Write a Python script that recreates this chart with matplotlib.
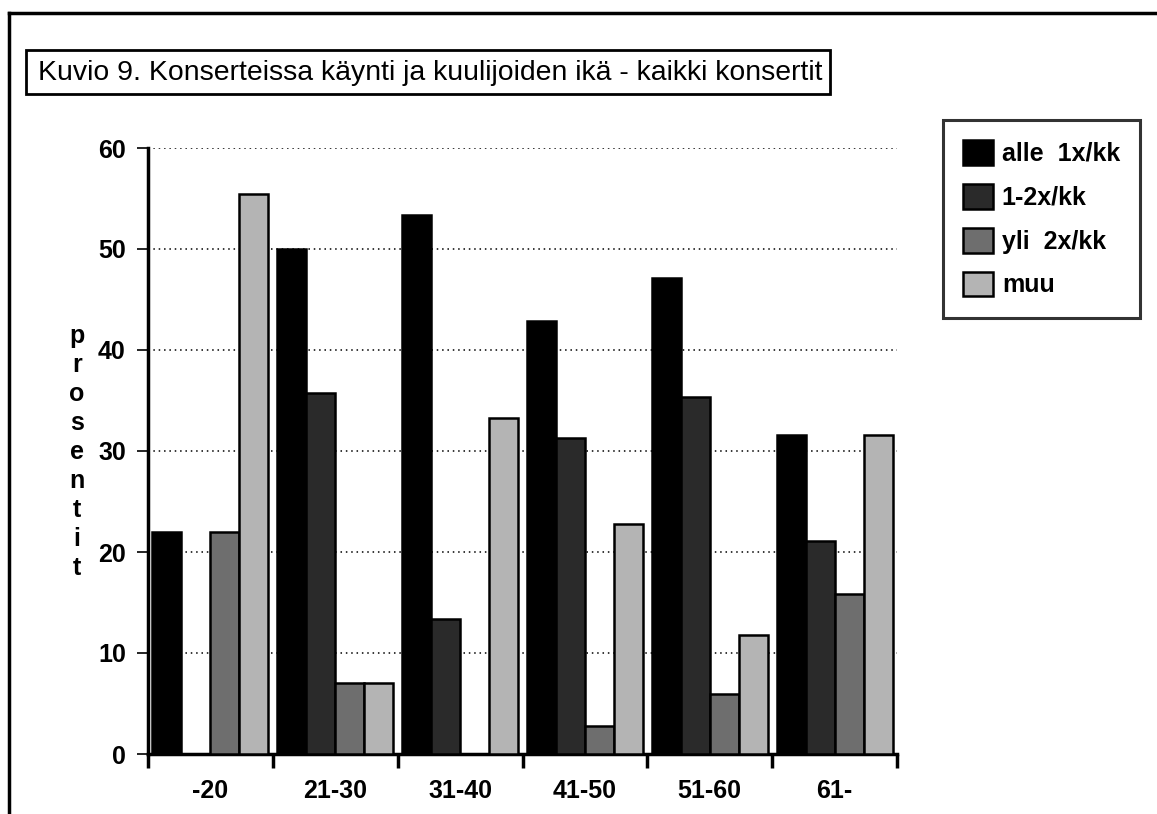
import numpy as np
import matplotlib.pyplot as plt
from matplotlib.patches import Rectangle
from matplotlib.lines import Line2D

plt.rcParams['font.family'] = ['Liberation Sans', 'DejaVu Sans']

# age groups and share (%) of listeners by concert-going frequency
age_groups = ["-20", "21-30", "31-40", "41-50", "51-60", "61-"]
series_names = ["alle  1x/kk", "1-2x/kk", "yli  2x/kk", "muu"]
alle_1x = [22.0, 50.0, 53.4, 42.9, 47.1, 31.6]
x1_2 = [0.0, 35.7, 13.4, 31.3, 35.3, 21.1]
yli_2x = [22.0, 7.0, 0.0, 2.8, 5.9, 15.8]
muu = [55.4, 7.0, 33.3, 22.8, 11.8, 31.6]
y_ticks = [0, 10, 20, 30, 40, 50, 60]

colors = ["#000000", "#2a2a2a", "#6e6e6e", "#b4b4b4"]

fig = plt.figure(figsize=(11.57, 8.14), dpi=100)
ax = fig.add_axes([148 / 1157, 1 - 754 / 814, (897 - 148) / 1157, (754 - 148) / 814])

x = np.arange(len(age_groups)) + 0.5
width = 0.232
handles = []
for i, (name, vals) in enumerate(zip(series_names, [alle_1x, x1_2, yli_2x, muu])):
    offs = (i - 1.5) * width
    b = ax.bar(x + offs, vals, width, color=colors[i], edgecolor="black",
               linewidth=1.8, zorder=3, label=name)
    handles.append(b)

ax.set_xlim(0, len(age_groups))
ax.set_ylim(0, 60)
ax.set_yticks(y_ticks)
ax.set_yticklabels([str(v) for v in y_ticks], fontsize=18, fontweight="bold")
ax.set_xticks(np.arange(len(age_groups) + 1))
ax.set_xticklabels([])
ax.set_xticks(x, minor=True)
ax.set_xticklabels(age_groups, minor=True, fontsize=18, fontweight="bold")
ax.tick_params(axis='x', which='minor', length=0, pad=18)
ax.tick_params(axis='x', which='major', length=10, width=2.5, direction='out')
ax.tick_params(axis='y', length=8, width=1.2, direction='out', pad=8)

for v in y_ticks[1:]:
    ax.axhline(v, color="black", linestyle=(0, (1, 2.5)), linewidth=1.1, zorder=1)

for s in ["top", "right"]:
    ax.spines[s].set_visible(False)
ax.spines["left"].set_linewidth(2.5)
ax.spines["bottom"].set_linewidth(2.5)

# stacked y label
letters = list("prosentit")
for k, ch in enumerate(letters):
    fig.text(77 / 1157, 1 - (336 + k * 29) / 814, ch, fontsize=18,
             fontweight="bold", ha="center", va="center")

# title box
fig.add_artist(Rectangle((26 / 1157, 1 - 94 / 814), (830 - 26) / 1157, 44 / 814,
                         transform=fig.transFigure, fill=False,
                         edgecolor="black", linewidth=2))
fig.text(38 / 1157, 1 - 73 / 814,
         "Kuvio 9. Konserteissa käynti ja kuulijoiden ikä - kaikki konsertit",
         fontsize=20.4, ha="left", va="center")

# outer frame (cropped)
fig.add_artist(Line2D([9 / 1157, 1.0], [1 - 13 / 814, 1 - 13 / 814],
                      transform=fig.transFigure, color="black", linewidth=2.5))
fig.add_artist(Line2D([9 / 1157, 9 / 1157], [1 - 13 / 814, 0.0],
                      transform=fig.transFigure, color="black", linewidth=2.5))

leg = fig.legend(handles=handles, labels=series_names, loc="upper left",
                 bbox_to_anchor=(943 / 1157, 1 - 120 / 814),
                 prop={"size": 18, "weight": "bold"},
                 frameon=True, fancybox=False, edgecolor="black",
                 handlelength=1.2, handleheight=1.15, labelspacing=0.72,
                 handletextpad=0.35, borderpad=0.8, borderaxespad=0)
leg.get_frame().set_linewidth(2.2)

fig.savefig("out.png", dpi=100)
